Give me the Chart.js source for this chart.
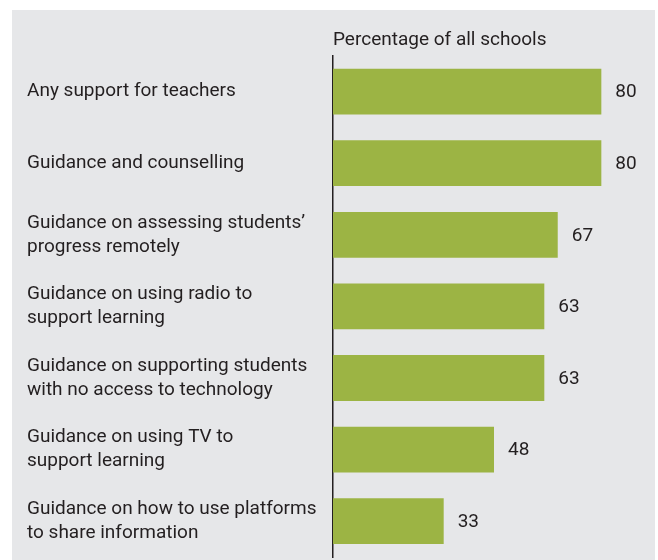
<!DOCTYPE html>
<html>
<head>
<meta charset="utf-8">
<script src="https://cdn.jsdelivr.net/npm/chart.js@4/dist/chart.umd.min.js"></script>
<style>
  html, body { margin: 0; padding: 0; background: #fff; }
  #wrap { position: relative; width: 658px; height: 560px; }
  #panel { position: absolute; left: 12px; top: 10px; width: 643px; height: 550px; background: #e6e7e9; }
  #wrap canvas { position: absolute; left: 0; top: 0; }
</style>
</head>
<body>
<div id="wrap">
  <div id="panel"></div>
  <canvas id="supportChart" width="658" height="560"></canvas>
</div>
<script>
// school support categories, one row each (multi-line labels as arrays)
const categories = [
  ['Any support for teachers'],
  ['Guidance and counselling'],
  ['Guidance on assessing students\u2019', 'progress remotely'],
  ['Guidance on using radio to', 'support learning'],
  ['Guidance on supporting students', 'with no access to technology'],
  ['Guidance on using TV to', 'support learning'],
  ['Guidance on how to use platforms', 'to share information']
];
const shares = [80, 80, 67, 63, 63, 48, 33];
const axisTitle = 'Percentage of all schools';

const FONT = '"Roboto", "Liberation Sans", sans-serif';
const INK = '#231f20';

// value printed just past the end of each bar
const valueLabels = {
  id: 'valueLabels',
  afterDatasetsDraw(chart) {
    const { ctx } = chart;
    const meta = chart.getDatasetMeta(0);
    ctx.save();
    ctx.font = '19px ' + FONT;
    ctx.fillStyle = INK;
    ctx.textAlign = 'left';
    ctx.textBaseline = 'middle';
    meta.data.forEach((bar, i) => {
      ctx.fillText(String(shares[i]), bar.x + 14, bar.y + 1);
    });
    ctx.restore();
  }
};

new Chart(document.getElementById('supportChart'), {
  type: 'bar',
  data: {
    labels: categories,
    datasets: [{
      data: shares,
      backgroundColor: '#9cb444',
      borderWidth: 0,
      categoryPercentage: 1,
      barPercentage: 0.64
    }]
  },
  options: {
    indexAxis: 'y',
    responsive: false,
    animation: false,
    layout: { padding: { left: 27, right: 3, top: 0, bottom: 3 } },
    plugins: {
      legend: { display: false },
      tooltip: { enabled: false },
      title: {
        display: true,
        text: axisTitle,
        align: 'start',
        fullSize: false,
        color: INK,
        font: { family: FONT, size: 19, weight: 'normal' },
        padding: { top: 29, bottom: 4 }
      }
    },
    scales: {
      x: { display: false, min: 0, max: 96 },
      y: {
        afterFit(scale) {
          // fixed label column; bands run the full height
          scale.width = 306;
          scale.paddingTop = 0;
          scale.paddingBottom = 0;
        },
        grid: { display: false, drawTicks: false },
        border: { display: true, color: '#231f20', width: 1.5 },
        ticks: {
          crossAlign: 'far',
          color: INK,
          padding: 0,
          font: { family: FONT, size: 19, lineHeight: 1.26 }
        }
      }
    }
  },
  plugins: [valueLabels]
});
</script>
</body>
</html>
